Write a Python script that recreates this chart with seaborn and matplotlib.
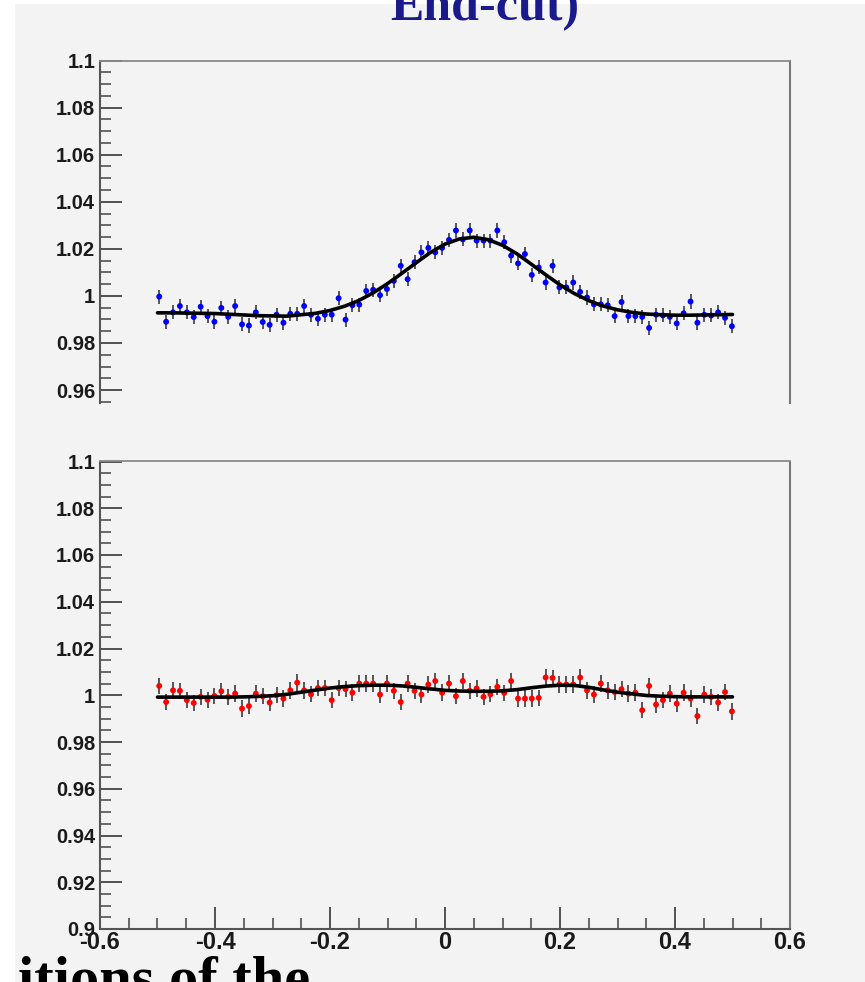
import numpy as np
import pandas as pd
import matplotlib
matplotlib.use("Agg")
import matplotlib.pyplot as plt
import seaborn as sns
from matplotlib.ticker import MultipleLocator
from matplotlib.patches import Rectangle

# ---------------- data ----------------
x_points = np.round(np.linspace(-0.497, 0.499, 84), 4)

top_values = [
    0.9997, 0.9890, 0.9930, 0.9957, 0.9930, 0.9910, 0.9954, 0.9914, 0.9890, 0.9949,
    0.9911, 0.9957, 0.9879, 0.9874, 0.9930, 0.9889, 0.9877, 0.9920, 0.9886, 0.9924,
    0.9924, 0.9957, 0.9920, 0.9903, 0.9920, 0.9920, 0.9990, 0.9899, 0.9960, 0.9963,
    1.0021, 1.0026, 1.0003, 1.0029, 1.0064, 1.0128, 1.0071, 1.0143, 1.0185, 1.0204,
    1.0185, 1.0204, 1.0238, 1.0278, 1.0240, 1.0278, 1.0235, 1.0235, 1.0235, 1.0278,
    1.0228, 1.0171, 1.0138, 1.0178, 1.0089, 1.0121, 1.0057, 1.0128, 1.0036, 1.0036,
    1.0057, 1.0017, 0.9993, 0.9964, 0.9964, 0.9960, 0.9914, 0.9974, 0.9914, 0.9914,
    0.9911, 0.9864, 0.9920, 0.9917, 0.9911, 0.9883, 0.9926, 0.9976, 0.9886, 0.9920,
    0.9917, 0.9930, 0.9907, 0.9871,
]

bottom_values = [
    1.0040, 0.9971, 1.0021, 1.0019, 0.9979, 0.9967, 0.9993, 0.9981, 0.9997, 1.0017,
    0.9993, 1.0007, 0.9943, 0.9954, 1.0007, 0.9996, 0.9969, 1.0000, 0.9986, 1.0021,
    1.0054, 1.0021, 1.0004, 1.0031, 1.0031, 0.9979, 1.0031, 1.0026, 1.0011, 1.0050,
    1.0050, 1.0050, 1.0003, 1.0050, 1.0019, 0.9971, 1.0050, 1.0019, 1.0003, 1.0046,
    1.0061, 1.0011, 1.0050, 0.9996, 1.0061, 1.0019, 1.0029, 0.9993, 1.0004, 1.0036,
    1.0010, 1.0061, 0.9986, 0.9986, 0.9986, 0.9989, 1.0076, 1.0074, 1.0046, 1.0046,
    1.0046, 1.0076, 1.0021, 1.0003, 1.0050, 1.0021, 1.0014, 1.0026, 1.0007, 1.0011,
    0.9936, 1.0040, 0.9960, 0.9979, 1.0007, 0.9964, 1.0011, 0.9986, 0.9911, 1.0003,
    0.9993, 0.9969, 1.0014, 0.9931,
]

top_err = 0.003
bottom_err = 0.0035

curve_x = np.round(np.linspace(-0.5, 0.5, 41), 3)
top_curve = [
    0.9928, 0.9928, 0.9927, 0.9926, 0.9925, 0.9922, 0.9919, 0.9916, 0.9915, 0.9914,
    0.9920, 0.9926, 0.9938, 0.9956, 0.9980, 1.0013, 1.0052, 1.0096, 1.0141, 1.0185,
    1.0220, 1.0242, 1.0249, 1.0239, 1.0215, 1.0179, 1.0135, 1.0090, 1.0047, 1.0010,
    0.9980, 0.9957, 0.9941, 0.9930, 0.9923, 0.9920, 0.9918, 0.9918, 0.9919, 0.9920,
    0.9921,
]
bottom_curve = [
    0.9992, 0.9992, 0.9992, 0.9992, 0.9992, 0.9992, 0.9993, 0.9995, 0.9998, 1.0004,
    1.0013, 1.0022, 1.0031, 1.0037, 1.0041, 1.0043, 1.0043, 1.0040, 1.0034, 1.0027,
    1.0021, 1.0018, 1.0017, 1.0017, 1.0019, 1.0024, 1.0032, 1.0039, 1.0043, 1.0042,
    1.0034, 1.0023, 1.0013, 1.0006, 0.9999, 0.9996, 0.9994, 0.9993, 0.9993, 0.9993,
    0.9993,
]

x_ticks = [-0.6, -0.4, -0.2, 0.0, 0.2, 0.4, 0.6]
x_labels = ["-0.6", "-0.4", "-0.2", "0", "0.2", "0.4", "0.6"]
top_y_ticks = [0.96, 0.98, 1.0, 1.02, 1.04, 1.06, 1.08, 1.1]
top_y_labels = ["0.96", "0.98", "1", "1.02", "1.04", "1.06", "1.08", "1.1"]
bottom_y_ticks = [0.9, 0.92, 0.94, 0.96, 0.98, 1.0, 1.02, 1.04, 1.06, 1.08, 1.1]
bottom_y_labels = ["0.9", "0.92", "0.94", "0.96", "0.98", "1", "1.02", "1.04",
                   "1.06", "1.08", "1.1"]

title_text = "Ehd-cut)"
footer_text = "itions of the"

# ---------------- styling ----------------
sns.set_theme(style="ticks")
plt.rcParams["font.family"] = ["Liberation Sans", "DejaVu Sans"]

BG = "#f3f3f3"
W, H = 865, 982
fig = plt.figure(figsize=(W / 100, H / 100), dpi=100, facecolor="white")
fig.patches.append(Rectangle((15 / W, 0), 1, 1 - 4 / H, transform=fig.transFigure,
                             facecolor=BG, edgecolor="none", zorder=-10))

left = 100 / W
width = 690 / W
ax_top = fig.add_axes([left, 1 - 403 / H, width, (403 - 60.5) / H])
ax_bot = fig.add_axes([left, 1 - 929 / H, width, (929 - 461.5) / H])

top_df = pd.DataFrame({"x": x_points, "y": top_values})
bot_df = pd.DataFrame({"x": x_points, "y": bottom_values})
top_fit = pd.DataFrame({"x": curve_x, "y": top_curve})
bot_fit = pd.DataFrame({"x": curve_x, "y": bottom_curve})

def draw(ax, df, fit, err, color):
    ax.set_facecolor(BG)
    ax.errorbar(df["x"], df["y"], yerr=err, fmt="none", ecolor="#555555",
                elinewidth=1.4, capsize=0, zorder=2)
    sns.scatterplot(data=df, x="x", y="y", color=color, s=18, edgecolor="none",
                    linewidth=0, ax=ax, zorder=3, legend=False)
    sns.lineplot(data=fit, x="x", y="y", color="black", lw=2.6, ax=ax, zorder=4)
    ax.set_xlim(-0.6, 0.6)
    ax.set_xlabel("")
    ax.set_ylabel("")
    ax.xaxis.set_minor_locator(MultipleLocator(0.05))
    ax.yaxis.set_minor_locator(MultipleLocator(0.005))
    ax.tick_params(which="major", direction="in", length=16, width=1.3,
                   color="#444444", labelsize=14.5, pad=3.5, labelcolor="#1a1a1a",
                   top=False, right=False)
    ax.tick_params(which="minor", direction="in", length=8, width=1.1,
                   color="#444444", top=False, right=False)
    ax.tick_params(axis="x", pad=1.5, labelsize=17)
    for s in ["left", "bottom"]:
        ax.spines[s].set_color("#555555")
        ax.spines[s].set_linewidth(1.5)
    ax.spines["top"].set_color("#8a8a8a")
    ax.spines["top"].set_linewidth(1.3)
    ax.spines["right"].set_color("#777777")
    ax.spines["right"].set_linewidth(1.5)

draw(ax_top, top_df, top_fit, top_err, "#0000ff")
draw(ax_bot, bot_df, bot_fit, bottom_err, "#ff0000")

ax_top.set_ylim(0.9545, 1.1)
ax_top.set_yticks(top_y_ticks, top_y_labels, fontweight="bold")
ax_top.spines["bottom"].set_visible(False)
ax_top.tick_params(axis="x", which="both", bottom=False, labelbottom=False)

ax_bot.set_ylim(0.9, 1.1)
ax_bot.set_yticks(bottom_y_ticks, bottom_y_labels, fontweight="bold")
ax_bot.set_xticks(x_ticks, x_labels, fontweight="bold")

fig.text(485 / W, 1 - 20 / H, title_text, color="#1a1a8c", fontsize=36,
         family=["Liberation Serif", "DejaVu Serif"], fontweight="bold",
         ha="center", va="baseline")
fig.text(18 / W, 1 - 996 / H, footer_text, color="black", fontsize=42,
         family=["Liberation Serif", "DejaVu Serif"], fontweight="bold",
         ha="left", va="baseline")

fig.savefig("out.png", dpi=100, facecolor="white")
